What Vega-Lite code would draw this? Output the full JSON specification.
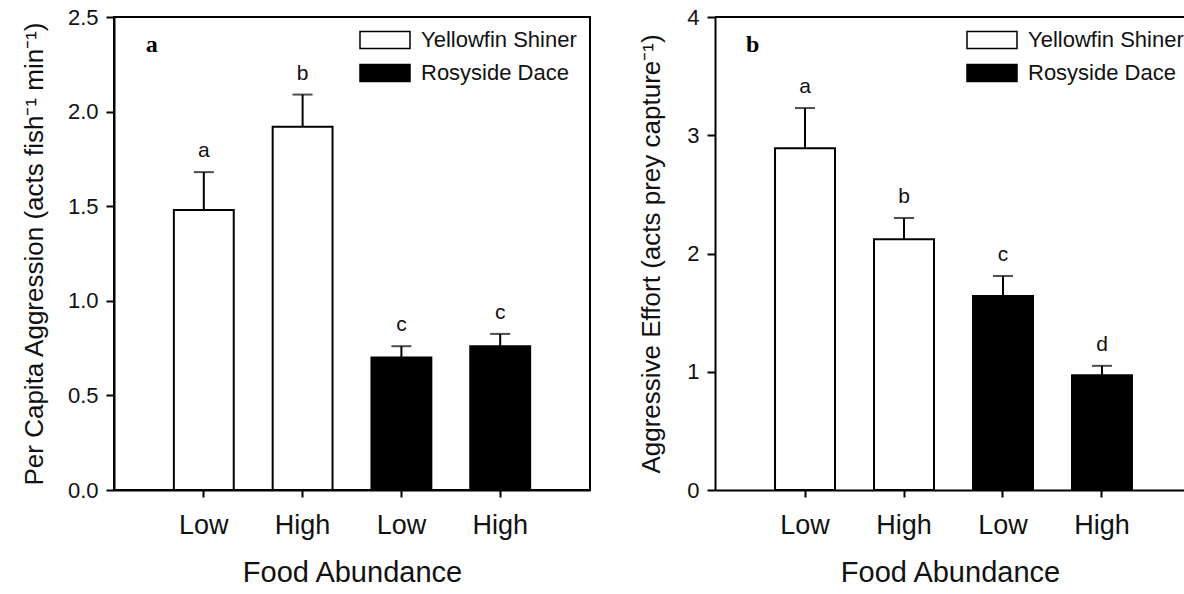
{
  "$schema": "https://vega.github.io/schema/vega-lite/v6.json",
  "background": "white",
  "padding": {"left": 20, "top": 5, "right": 0, "bottom": 0},
  "spacing": 47,
  "datasets": {
    "aggression": [
      {"bar": "Yellowfin Shiner, Low", "species": "Yellowfin Shiner", "mean": 1.48, "upper": 1.68, "letter": "a"},
      {"bar": "Yellowfin Shiner, High", "species": "Yellowfin Shiner", "mean": 1.92, "upper": 2.09, "letter": "b"},
      {"bar": "Rosyside Dace, Low", "species": "Rosyside Dace", "mean": 0.70, "upper": 0.76, "letter": "c"},
      {"bar": "Rosyside Dace, High", "species": "Rosyside Dace", "mean": 0.76, "upper": 0.825, "letter": "c"}
    ],
    "effort": [
      {"bar": "Yellowfin Shiner, Low", "species": "Yellowfin Shiner", "mean": 2.89, "upper": 3.23, "letter": "a"},
      {"bar": "Yellowfin Shiner, High", "species": "Yellowfin Shiner", "mean": 2.12, "upper": 2.30, "letter": "b"},
      {"bar": "Rosyside Dace, Low", "species": "Rosyside Dace", "mean": 1.64, "upper": 1.81, "letter": "c"},
      {"bar": "Rosyside Dace, High", "species": "Rosyside Dace", "mean": 0.97, "upper": 1.05, "letter": "d"}
    ]
  },
  "config": {
    "font": "Liberation Sans",
    "view": {"stroke": "black", "strokeWidth": 2},
    "axis": {
      "domainColor": "black", "domainWidth": 2, "tickColor": "black", "tickWidth": 2,
      "labelColor": "#111", "titleColor": "#111", "titleFontWeight": "normal", "grid": false
    },
    "axisY": {"tickSize": 8, "labelPadding": 8, "labelFontSize": 22, "titleFontSize": 26},
    "axisX": {"tickSize": 7, "labelPadding": 15, "labelFontSize": 27, "titleFontSize": 29, "titlePadding": 20, "labelAngle": 0},
    "legend": {
      "padding": 0,
      "symbolType": "M-2.5,-0.85H2.5V0.85H-2.5Z",
      "symbolSize": 400,
      "symbolStrokeColor": "black",
      "symbolStrokeWidth": 1.5,
      "labelFontSize": 22,
      "labelColor": "#111",
      "labelOffset": 25,
      "rowPadding": 9
    }
  },
  "resolve": {
    "scale": {"x": "independent", "y": "independent", "fill": "independent"},
    "legend": {"fill": "independent"}
  },
  "hconcat": [
    {
      "width": 476,
      "height": 473,
      "data": {"name": "aggression"},
      "layer": [
        {
          "mark": {"type": "bar", "stroke": "black", "strokeWidth": 2},
          "encoding": {
            "x": {"field": "bar", "type": "nominal", "sort": null,
                  "scale": {"paddingInner": 0.394, "paddingOuter": 0.606},
                  "axis": {"title": "Food Abundance", "labelExpr": "split(datum.label, ', ')[1]"}},
            "y": {"field": "mean", "type": "quantitative", "scale": {"domain": [0, 2.5], "nice": false},
                  "axis": {"title": "Per Capita Aggression (acts fish⁻¹ min⁻¹)", "values": [0, 0.5, 1, 1.5, 2, 2.5], "format": ".1f", "titlePadding": 20}},
            "fill": {"field": "species", "type": "nominal",
                     "scale": {"domain": ["Yellowfin Shiner", "Rosyside Dace"], "range": ["white", "black"]},
                     "legend": {"title": null, "orient": "none", "legendX": 260, "legendY": 12}}
          }
        },
        {
          "mark": {"type": "rule", "strokeWidth": 2, "color": "black"},
          "encoding": {
            "x": {"field": "bar", "type": "nominal", "sort": null},
            "y": {"field": "mean", "type": "quantitative"},
            "y2": {"field": "upper"}
          }
        },
        {
          "mark": {"type": "tick", "size": 20, "thickness": 2, "color": "black"},
          "encoding": {
            "x": {"field": "bar", "type": "nominal", "sort": null},
            "y": {"field": "upper", "type": "quantitative"}
          }
        },
        {
          "mark": {"type": "text", "dy": -15, "baseline": "alphabetic", "fontSize": 21, "color": "#111"},
          "encoding": {
            "x": {"field": "bar", "type": "nominal", "sort": null},
            "y": {"field": "upper", "type": "quantitative"},
            "text": {"field": "letter"}
          }
        },
        {
          "data": {"values": [{"panel": "a"}]},
          "mark": {"type": "text", "align": "left", "baseline": "alphabetic", "dx": -58, "dy": 35, "font": "Liberation Serif", "fontWeight": "bold", "fontSize": 24, "color": "black"},
          "encoding": {
            "x": {"datum": "Yellowfin Shiner, Low", "type": "nominal"},
            "y": {"datum": 2.5, "type": "quantitative"},
            "text": {"field": "panel"}
          }
        }
      ]
    },
    {
      "width": 470,
      "height": 473,
      "view": {"stroke": null},
      "data": {"name": "effort"},
      "layer": [
        {
          "mark": {"type": "bar", "stroke": "black", "strokeWidth": 2},
          "encoding": {
            "x": {"field": "bar", "type": "nominal", "sort": null,
                  "scale": {"paddingInner": 0.394, "paddingOuter": 0.571, "align": 0.531},
                  "axis": {"title": "Food Abundance", "labelExpr": "split(datum.label, ', ')[1]"}},
            "y": {"field": "mean", "type": "quantitative", "scale": {"domain": [0, 4], "nice": false},
                  "axis": {"title": "Aggressive Effort (acts prey capture⁻¹)", "values": [0, 1, 2, 3, 4], "format": "d", "titlePadding": 22}},
            "fill": {"field": "species", "type": "nominal",
                     "scale": {"domain": ["Yellowfin Shiner", "Rosyside Dace"], "range": ["white", "black"]},
                     "legend": {"title": null, "orient": "none", "legendX": 266, "legendY": 12}}
          }
        },
        {
          "mark": {"type": "rule", "strokeWidth": 2, "color": "black"},
          "encoding": {
            "x": {"field": "bar", "type": "nominal", "sort": null},
            "y": {"field": "mean", "type": "quantitative"},
            "y2": {"field": "upper"}
          }
        },
        {
          "mark": {"type": "tick", "size": 20, "thickness": 2, "color": "black"},
          "encoding": {
            "x": {"field": "bar", "type": "nominal", "sort": null},
            "y": {"field": "upper", "type": "quantitative"}
          }
        },
        {
          "mark": {"type": "text", "dy": -15, "baseline": "alphabetic", "fontSize": 21, "color": "#111"},
          "encoding": {
            "x": {"field": "bar", "type": "nominal", "sort": null},
            "y": {"field": "upper", "type": "quantitative"},
            "text": {"field": "letter"}
          }
        },
        {
          "data": {"values": [{"panel": "b"}]},
          "mark": {"type": "text", "align": "left", "baseline": "alphabetic", "dx": -59, "dy": 35, "font": "Liberation Serif", "fontWeight": "bold", "fontSize": 24, "color": "black"},
          "encoding": {
            "x": {"datum": "Yellowfin Shiner, Low", "type": "nominal"},
            "y": {"datum": 4, "type": "quantitative"},
            "text": {"field": "panel"}
          }
        },
        {
          "data": {"values": [{}]},
          "mark": {"type": "rule", "strokeWidth": 2, "color": "black"},
          "encoding": {"y": {"datum": 4}}
        }
      ]
    }
  ]
}
